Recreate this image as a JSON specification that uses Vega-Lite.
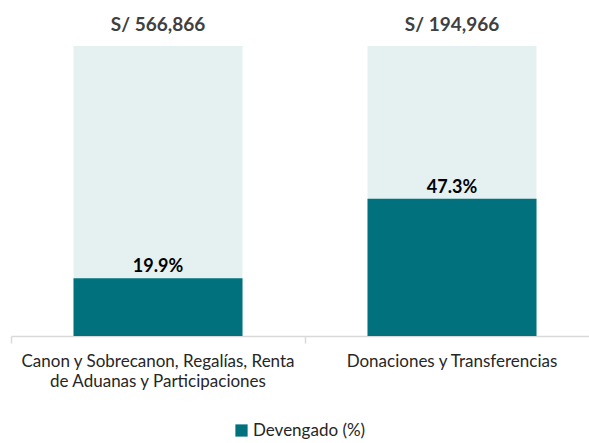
{
  "$schema": "https://vega.github.io/schema/vega-lite/v6.json",
  "width": 578,
  "height": 290,
  "autosize": {"type": "none"},
  "padding": {"left": 11, "top": 46, "right": 0, "bottom": 107},
  "background": "white",
  "config": {
    "view": {"stroke": null},
    "font": "Lato",
    "legend": {
      "labelFont": "Lato",
      "labelFontSize": 17,
      "labelColor": "#262626",
      "symbolType": "square",
      "symbolSize": 150,
      "symbolStrokeWidth": 0,
      "labelOffset": 3
    }
  },
  "data": {
    "values": [
      {"categoria": "Canon y Sobrecanon, Regalías, Renta de Aduanas y Participaciones", "devengado": 19.9, "total": 100, "pim": "S/ 566,866", "etiqueta": "19.9%"},
      {"categoria": "Donaciones y Transferencias", "devengado": 47.3, "total": 100, "pim": "S/ 194,966", "etiqueta": "47.3%"}
    ]
  },
  "encoding": {
    "x": {
      "field": "categoria",
      "type": "nominal",
      "sort": null,
      "scale": {"range": [0, 588], "paddingInner": 0, "paddingOuter": 0},
      "axis": {
        "title": null,
        "labelAngle": 0,
        "bandPosition": 0,
        "domainColor": "#d9d9d9",
        "domainWidth": 1.5,
        "tickColor": "#d9d9d9",
        "tickWidth": 1.5,
        "tickSize": 7,
        "labelPadding": 10,
        "labelFont": "Lato",
        "labelFontSize": 17,
        "labelColor": "#262626",
        "labelLineHeight": 20.5,
        "labelBaseline": "top",
        "labelLimit": 400,
        "labelExpr": "datum.value == 'Canon y Sobrecanon, Regalías, Renta de Aduanas y Participaciones' ? ['Canon y Sobrecanon, Regalías, Renta', 'de Aduanas y Participaciones'] : datum.label"
      }
    }
  },
  "layer": [
    {
      "mark": {"type": "bar", "width": 169, "color": "#e5f1f1"},
      "encoding": {
        "y": {"field": "total", "type": "quantitative", "scale": {"domain": [0, 100]}, "axis": null}
      }
    },
    {
      "mark": {"type": "bar", "width": 169},
      "encoding": {
        "y": {"field": "devengado", "type": "quantitative", "scale": {"domain": [0, 100]}, "axis": null},
        "color": {
          "datum": "Devengado (%)",
          "type": "nominal",
          "scale": {"range": ["#01727d"]},
          "legend": {"title": null, "orient": "none", "legendX": 222, "legendY": 376}
        }
      }
    },
    {
      "mark": {"type": "text", "baseline": "alphabetic", "dy": -6, "font": "Lato", "fontSize": 18, "fontWeight": "bold", "color": "#000000"},
      "encoding": {
        "y": {"field": "devengado", "type": "quantitative"},
        "text": {"field": "etiqueta"}
      }
    },
    {
      "mark": {"type": "text", "baseline": "alphabetic", "dy": -15, "font": "Lato", "fontSize": 19, "fontWeight": "bold", "color": "#404040"},
      "encoding": {
        "y": {"field": "total", "type": "quantitative"},
        "text": {"field": "pim"}
      }
    }
  ]
}
